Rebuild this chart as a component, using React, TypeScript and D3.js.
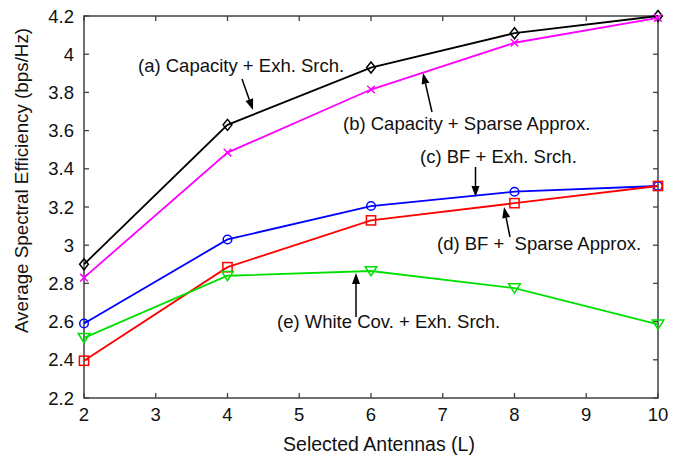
import React from "react";
import * as d3 from "d3";

const xValues = [2, 4, 6, 8, 10];
const capExh = [2.9, 3.63, 3.93, 4.11, 4.2];
const capSparse = [2.83, 3.485, 3.815, 4.06, 4.19];
const bfExh = [2.59, 3.03, 3.205, 3.28, 3.31];
const bfSparse = [2.395, 2.885, 3.13, 3.22, 3.31];
const whiteExh = [2.515, 2.84, 2.865, 2.775, 2.585];
const xTicks = [2, 3, 4, 5, 6, 7, 8, 9, 10];
const yTicks = [2.2, 2.4, 2.6, 2.8, 3, 3.2, 3.4, 3.6, 3.8, 4, 4.2];

const series = [
  { name: "a", values: capExh, color: "#000000", marker: "diamond" },
  { name: "b", values: capSparse, color: "#ff00ff", marker: "x" },
  { name: "c", values: bfExh, color: "#0000ff", marker: "circle" },
  { name: "d", values: bfSparse, color: "#ff0000", marker: "square" },
  { name: "e", values: whiteExh, color: "#00e000", marker: "triangle" },
];

// annotations: text, text position (start x, baseline y) in data-independent pixels, arrow from -> to (data coords for tip)
const annotations = [
  { label: "(a) Capacity + Exh. Srch.", tx: 138, ty: 72, from: [242, 79], to: [253, 110] },
  { label: "(b) Capacity + Sparse Approx.", tx: 343, ty: 130, from: [432, 112], to: [423, 73] },
  { label: "(c) BF + Exh. Srch.", tx: 420, ty: 163, from: [475.5, 167], to: [475.5, 197] },
  { label: "(d) BF +  Sparse Approx.", tx: 437, ty: 250, from: [510, 237], to: [504, 207] },
  { label: "(e) White Cov. + Exh. Srch.", tx: 277, ty: 328, from: [356, 317], to: [356, 273] },
];

const W = 689;
const H = 458;
const left = 84;
const right = 658;
const top = 16;
const bottom = 398;
const FONT = "'Liberation Sans', Arial, Helvetica, sans-serif";
const AXIS = "#404040";

function Marker({ type, x, y, color }: { type: string; x: number; y: number; color: string }) {
  const sw = 1.5;
  if (type === "diamond") {
    const s = 5.5;
    return <path d={`M${x},${y - s}L${x + s * 0.8},${y}L${x},${y + s}L${x - s * 0.8},${y}Z`} fill="none" stroke={color} strokeWidth={sw} />;
  }
  if (type === "x") {
    const s = 3.8;
    return <path d={`M${x - s},${y - s}L${x + s},${y + s}M${x - s},${y + s}L${x + s},${y - s}`} stroke={color} strokeWidth={sw} />;
  }
  if (type === "circle") {
    return <circle cx={x} cy={y} r={4.3} fill="none" stroke={color} strokeWidth={sw} />;
  }
  if (type === "square") {
    const s = 4.6;
    return <rect x={x - s} y={y - s} width={2 * s} height={2 * s} fill="none" stroke={color} strokeWidth={sw} />;
  }
  // downward triangle
  const s = 5.8;
  return <path d={`M${x - s},${y - s * 0.75}L${x + s},${y - s * 0.75}L${x},${y + s * 0.85}Z`} fill="none" stroke={color} strokeWidth={sw} />;
}

function Arrow({ from, to }: { from: number[]; to: number[] }) {
  const [x1, y1] = from;
  const [x2, y2] = to;
  const dx = x2 - x1;
  const dy = y2 - y1;
  const len = Math.hypot(dx, dy);
  const ux = dx / len;
  const uy = dy / len;
  const hl = 11;
  const hw = 4;
  const bx = x2 - ux * hl;
  const by = y2 - uy * hl;
  const px = -uy;
  const py = ux;
  return (
    <g>
      <line x1={x1} y1={y1} x2={bx} y2={by} stroke="#000" strokeWidth={1.5} />
      <path d={`M${x2},${y2}L${bx + px * hw},${by + py * hw}L${bx - px * hw},${by - py * hw}Z`} fill="#000" />
    </g>
  );
}

export default function App() {
  const x = d3.scaleLinear().domain([2, 10]).range([left, right]);
  const y = d3.scaleLinear().domain([2.2, 4.2]).range([bottom, top]);
  const line = d3
    .line<number>()
    .x((_, i) => x(xValues[i]))
    .y((d) => y(d));

  return (
    <svg
      width={W}
      height={H}
      viewBox={`0 0 ${W} ${H}`}
      style={{ position: "absolute", left: 0, top: 0, background: "#fff" }}
      fontFamily={FONT}
    >
      <rect x={0} y={0} width={W} height={H} fill="#fff" />
      {/* ticks */}
      {xTicks.map((t) => (
        <g key={"xt" + t}>
          <line x1={x(t)} x2={x(t)} y1={bottom} y2={bottom - 5} stroke={AXIS} strokeWidth={1.3} />
          <line x1={x(t)} x2={x(t)} y1={top} y2={top + 5} stroke={AXIS} strokeWidth={1.3} />
          <text x={x(t)} y={421} textAnchor="middle" fontSize={18.5} fill="#111">
            {d3.format("")(t)}
          </text>
        </g>
      ))}
      {yTicks.map((t) => (
        <g key={"yt" + t}>
          <line x1={left} x2={left + 5} y1={y(t)} y2={y(t)} stroke={AXIS} strokeWidth={1.3} />
          <line x1={right} x2={right - 5} y1={y(t)} y2={y(t)} stroke={AXIS} strokeWidth={1.3} />
          <text x={74} y={y(t)} dy="0.36em" textAnchor="end" fontSize={18.5} fill="#111">
            {d3.format("~g")(t)}
          </text>
        </g>
      ))}
      {/* box */}
      <rect x={left} y={top} width={right - left} height={bottom - top} fill="none" stroke={AXIS} strokeWidth={1.5} />
      {/* series */}
      {series.map((s) => (
        <g key={s.name}>
          <path d={line(s.values) || ""} fill="none" stroke={s.color} strokeWidth={1.8} />
          {s.values.map((v, i) => (
            <Marker key={i} type={s.marker} x={x(xValues[i])} y={y(v)} color={s.color} />
          ))}
        </g>
      ))}
      {/* annotations */}
      {annotations.map((a) => (
        <g key={a.label}>
          <text x={a.tx} y={a.ty} fontSize={18.5} fill="#111" style={{ whiteSpace: "pre" }}>
            {a.label}
          </text>
          <Arrow from={a.from} to={a.to} />
        </g>
      ))}
      {/* axis labels */}
      <text x={(280 + 478) / 2} y={451} textAnchor="middle" fontSize={19.5} fill="#111">
        Selected Antennas (L)
      </text>
      <text
        transform={`translate(28,${(333 + 28) / 2}) rotate(-90)`}
        textAnchor="middle"
        fontSize={18.8}
        fill="#111"
      >
        Average Spectral Efficiency (bps/Hz)
      </text>
    </svg>
  );
}
